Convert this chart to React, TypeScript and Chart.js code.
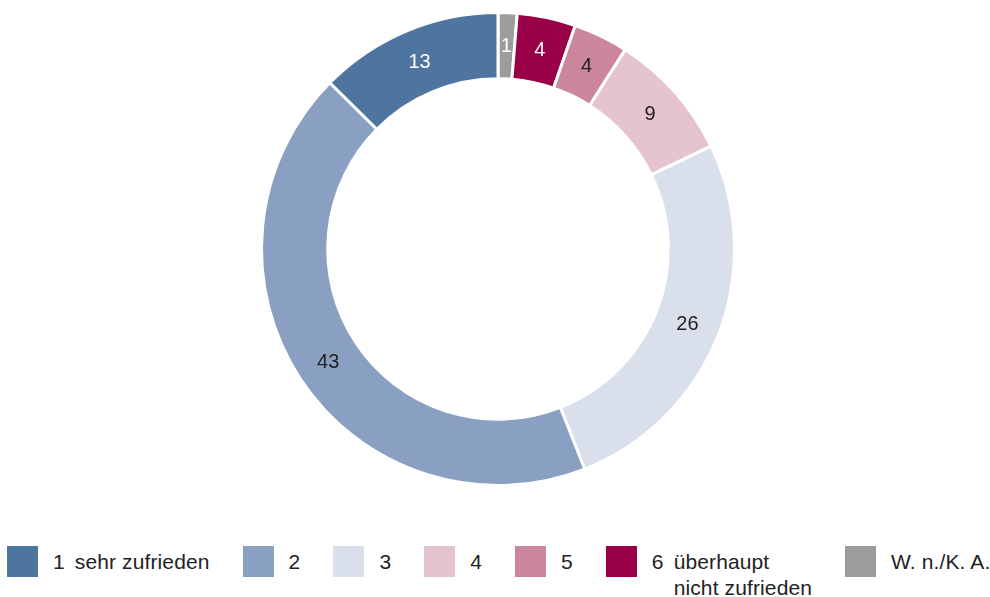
import React, { useEffect, useRef } from "react";
import { Chart, registerables } from "chart.js";

Chart.register(...registerables);

// Legend order (shares in %, labels are shown rounded)
const categoryNumbers = ["1", "2", "3", "4", "5", "6", ""];
const categoryLabels = ["sehr zufrieden", "", "", "", "", "überhaupt\nnicht zufrieden", "W. n./K. A."];
const values = [12.6, 43.4, 26.2, 8.8, 3.75, 4.0, 1.3];
const colors = ["#4e74a0", "#8aa0c2", "#d9e0ec", "#e6c4cf", "#cb869d", "#990047", "#9c9c9c"];
const labelColors = ["#ffffff", "#222222", "#222222", "#222222", "#222222", "#ffffff", "#ffffff"];

const FONT = '"Liberation Sans", Arial, Helvetica, sans-serif';

const valueLabelPlugin = {
  id: "valueLabels",
  afterDatasetsDraw(chart: any) {
    const ctx = chart.ctx;
    const meta = chart.getDatasetMeta(0);
    const ds = chart.data.datasets[0];
    ctx.save();
    ctx.font = `20px ${FONT}`;
    ctx.textAlign = "center";
    ctx.textBaseline = "middle";
    meta.data.forEach((arc: any, i: number) => {
      const p = arc.getCenterPoint();
      ctx.fillStyle = ds.labelColors[i];
      ctx.fillText(String(Math.round(ds.data[i])), p.x, p.y + 1);
    });
    ctx.restore();
  },
};

export default function App() {
  const ref = useRef<HTMLCanvasElement | null>(null);

  useEffect(() => {
    if (!ref.current) return;
    const order = values.map((_, i) => i).reverse();
    const chart = new Chart(ref.current, {
      type: "doughnut",
      data: {
        labels: order.map((i) => (categoryNumbers[i] + " " + categoryLabels[i]).trim()),
        datasets: [
          {
            data: order.map((i) => values[i]),
            backgroundColor: order.map((i) => colors[i]),
            borderColor: "#ffffff",
            borderWidth: 3,
            labelColors: order.map((i) => labelColors[i]),
          } as any,
        ],
      },
      options: {
        animation: false,
        responsive: true,
        maintainAspectRatio: false,
        cutout: "72%",
        layout: { padding: { top: 11, bottom: 12, left: 6, right: 0 } },
        plugins: {
          legend: { display: false },
          tooltip: { enabled: false },
        },
      },
      plugins: [valueLabelPlugin],
    });
    return () => chart.destroy();
  }, []);

  return (
    <div
      style={{
        position: "absolute",
        left: 0,
        top: 0,
        width: 990,
        height: 597,
        background: "#ffffff",
        fontFamily: FONT,
        color: "#222222",
        overflow: "hidden",
      }}
    >
      <div style={{ position: "absolute", left: 0, top: 0, width: 990, height: 499 }}>
        <canvas ref={ref} />
      </div>
      <div
        style={{
          position: "absolute",
          left: 7,
          top: 546,
          width: 1100,
          display: "flex",
          alignItems: "flex-start",
          gap: 33,
          fontSize: 21,
          lineHeight: "26px",
          letterSpacing: "0.12px",
          whiteSpace: "nowrap",
        }}
      >
        {categoryNumbers.map((num, i) => (
          <div key={i} style={{ display: "flex", alignItems: "flex-start", flex: "none" }}>
            <div style={{ width: 31, height: 31, background: colors[i], flex: "none" }} />
            <div style={{ display: "flex", marginLeft: 15, marginTop: 3, flex: "none" }}>
              {num && <span>{num}</span>}
              {categoryLabels[i] && (
                <div style={{ marginLeft: num ? 10 : 0 }}>
                  {categoryLabels[i].split("\n").map((line, k) => (
                    <div key={k} style={{ whiteSpace: "nowrap" }}>{line}</div>
                  ))}
                </div>
              )}
            </div>
          </div>
        ))}
      </div>
    </div>
  );
}
